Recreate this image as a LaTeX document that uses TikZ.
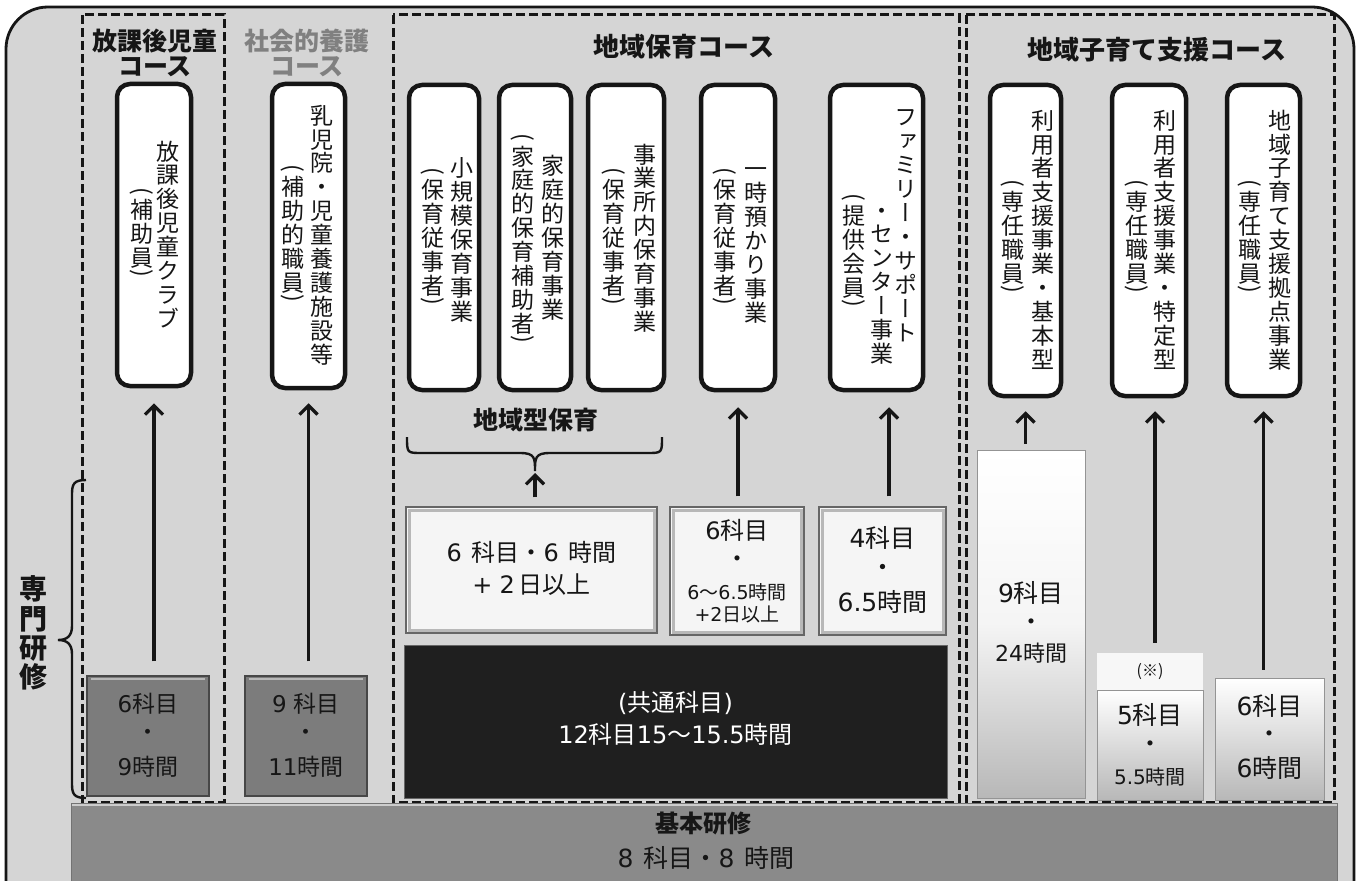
\documentclass[tikz,border=0pt]{standalone}
\usepackage{fontspec}
\usepackage{graphicx}
\setmainfont{Noto Sans CJK JP}
\newfontfamily\jpv[RawFeature=+vert]{Noto Sans CJK JP}
\newfontfamily\dv{DejaVu Sans}
\newcommand\dg[1]{{\dv #1}}
\usetikzlibrary{arrows.meta,calc}
\definecolor{bgc}{HTML}{D5D5D5}
\definecolor{boxgray}{HTML}{7C7C7C}
\definecolor{basegray}{HTML}{8A8A8A}
\definecolor{inkc}{HTML}{161616}
\makeatletter
\def\vt@lp{（}\def\vt@rp{）}
\def\vt@paren#1{\vbox to .45em{\vss\hbox to 1em{\hss\rotatebox[origin=c]{-90}{#1}\hss}\vss}}
\newcommand\vtext[1]{\vbox{\offinterlineskip\jpv
  \@tfor\vt@c:=#1\do{%
    \ifx\vt@c\vt@lp\vt@paren{(}%
    \else\ifx\vt@c\vt@rp\vt@paren{)}%
    \else\hbox to 1em{\vrule height .9em depth .14em width 0pt\hss\vt@c\hss}%
    \fi\fi}}}
\makeatother
\tikzset{
  fs/.style={font=\fontsize{#1}{#1}\selectfont},
  lbl/.style={inner sep=0pt, text=inkc},
  vcol/.style={inner sep=0pt, text=inkc, font=\fontsize{23}{24}\selectfont},
  ttl/.style={inner sep=0pt, text=inkc, font=\fontsize{25}{27}\selectfont\bfseries},
  jobbox/.style={draw=inkc, line width=4.5pt, fill=white, rounded corners=13pt, inner sep=0pt},
  course/.style={draw=inkc, line width=3pt, dash pattern=on 9pt off 4pt},
  arr/.style={draw=inkc, line width=3.2pt, -{Straight Barb[length=9pt,width=18pt]}},
  brace/.style={draw=inkc, line width=2.4pt},
  graybox/.style={fill=boxgray, draw=black!72, line width=1.2pt, inner sep=0pt,
    path picture={\draw[white!72!black, line width=2pt]
      ($(path picture bounding box.north west)+(4,3)$) -- ($(path picture bounding box.north east)+(-4,3)$);}},
  lightbox/.style={fill=black!4, draw=black!60, line width=1.2pt, inner sep=0pt,
    path picture={\draw[black!28, line width=3pt]
      ($(path picture bounding box.north west)+(3,3)$) rectangle ($(path picture bounding box.south east)+(-3,-3)$);}},
  gradbox/.style={top color=white, bottom color=black!28, draw=black!42, line width=1pt, inner sep=0pt},
  blackbox/.style={fill=black!88, draw=black!60, line width=1pt, inner sep=0pt},
  basebar/.style={fill=basegray, draw=black!55, line width=1pt, inner sep=0pt,
    path picture={\draw[white!80!black, line width=2.5pt]
      ($(path picture bounding box.north west)+(0,2)$) -- ($(path picture bounding box.north east)+(0,2)$);}}
}
\begin{document}
\begin{tikzpicture}[x=1pt,y=-1pt]
\useasboundingbox (0,0) rectangle (1364,880);
\fill[white] (0,0) rectangle (1364,880);
\begin{scope}
\clip (0,0) rectangle (1364,880);
\draw[fill=bgc, draw=inkc, line width=2.8pt, rounded corners=42pt] (6,7) rectangle (1354,940);
\end{scope}

% course frames
\draw[course] (82,15) rectangle (224,802);
\draw[course] (393,15) rectangle (959,802);
\draw[course] (966,15) rectangle (1334,802);

% course titles
\node[ttl] (c1a) at (155,41) {放課後児童};
\node[ttl] (c1b) at (155,67) {コース};
\node[ttl, text=black!50] (c2a) at (307,41) {社会的養護};
\node[ttl, text=black!50] (c2b) at (307,67) {コース};
\node[ttl, font=\fontsize{26}{28}\selectfont\bfseries] (c3) at (684,47) {地域保育コース};
\node[ttl, font=\fontsize{26}{28}\selectfont\bfseries] (c4) at (1157,50) {地域子育て支援コース};

% job boxes
\node[jobbox, minimum width=74, minimum height=302] (j1) at (154,235) {};
\node[jobbox, minimum width=73, minimum height=304] (j2) at (308.5,236) {};
\node[jobbox, minimum width=70, minimum height=305] (j3) at (444,237.5) {};
\node[jobbox, minimum width=72, minimum height=305] (j4) at (535,237.5) {};
\node[jobbox, minimum width=76, minimum height=305] (j5) at (626,237.5) {};
\node[jobbox, minimum width=74, minimum height=305] (j6) at (738,237.5) {};
\node[jobbox, minimum width=93, minimum height=305] (j7) at (876.5,237.5) {};
\node[jobbox, minimum width=71, minimum height=311] (j8) at (1025.5,240.5) {};
\node[jobbox, minimum width=74, minimum height=311] (j9) at (1149,240.5) {};
\node[jobbox, minimum width=73, minimum height=311] (j10) at (1263.5,240.5) {};

% vertical texts
\node[vcol] (v1a) at (168,235) {\vtext{放課後児童クラブ}};
\node[vcol] (v1b) at (142,234) {\vtext{（補助員）}};
\node[vcol] (v2a) at (322,235) {\vtext{乳児院・児童養護施設等}};
\node[vcol] (v2b) at (293,235) {\vtext{（補助的職員）}};
\node[vcol] (v3a) at (462,240) {\vtext{小規模保育事業}};
\node[vcol] (v3b) at (433,238) {\vtext{（保育従事者）}};
\node[vcol] (v4a) at (553,238) {\vtext{家庭的保育事業}};
\node[vcol] (v4b) at (523,240) {\vtext{（家庭的保育補助者）}};
\node[vcol] (v5a) at (645,238) {\vtext{事業所内保育事業}};
\node[vcol] (v5b) at (614,238) {\vtext{（保育従事者）}};
\node[vcol] (v6a) at (756,241) {\vtext{一時預かり事業}};
\node[vcol] (v6b) at (725,238) {\vtext{（保育従事者）}};
\node[vcol, anchor=north] (v7a) at (906,105) {\vtext{ファミリー・サポート}};
\node[vcol, anchor=south] (v7b) at (882,366) {\vtext{・センター事業}};
\node[vcol] (v7c) at (854,252) {\vtext{（提供会員）}};
\node[vcol] (v8a) at (1043,240) {\vtext{利用者支援事業・基本型}};
\node[vcol] (v8b) at (1013,238) {\vtext{（専任職員）}};
\node[vcol] (v9a) at (1165,240) {\vtext{利用者支援事業・特定型}};
\node[vcol] (v9b) at (1137,238) {\vtext{（専任職員）}};
\node[vcol] (v10a) at (1280,240) {\vtext{地域子育て支援拠点事業}};
\node[vcol] (v10b) at (1250,238) {\vtext{（専任職員）}};

% 地域型保育 brace
\node[ttl] (lz) at (536,420) {地域型保育};
\coordinate (brtip) at (535,471);
\draw[brace] (407,437) .. controls (407,453) and (407,453) .. (422,453) -- (520,453)
  .. controls (535,453) and (535,458) .. (brtip)
  .. controls (535,458) and (535,453) .. (550,453) -- (647,453)
  .. controls (662,453) and (662,453) .. (662,437);

% 専門研修 brace
\draw[brace] (86,480) .. controls (74,480) and (72,484) .. (72,494) -- (72,626)
  .. controls (72,636) and (67,640) .. (58,640)
  .. controls (67,640) and (72,644) .. (72,654) -- (72,784)
  .. controls (72,794) and (74,798) .. (86,798);
\node[inner sep=0pt, text=inkc, font=\fontsize{28}{28}\selectfont\bfseries] (sk) at (33,633) {\vtext{専門研修}};

% lower boxes
\node[graybox, minimum width=122, minimum height=120] (s1) at (148,736) {};
\node[graybox, minimum width=122, minimum height=120] (s2) at (306,736) {};
\node[lightbox, minimum width=251, minimum height=126] (b1) at (531.5,570) {};
\node[lightbox, minimum width=134, minimum height=128] (b2) at (737,571) {};
\node[lightbox, minimum width=127, minimum height=128] (b3) at (882.5,571) {};
\node[blackbox, minimum width=543, minimum height=153] (k) at (675.5,721.5) {};
\node[gradbox, middle color=white!96!black, minimum width=108, minimum height=348] (r1) at (1031,624) {};
\node[fill=white!97!black, inner sep=0pt, minimum width=106, minimum height=37] (rn) at (1150,671.5) {};
\node[gradbox, minimum width=106, minimum height=110] (r2) at (1150,745) {};
\node[gradbox, minimum width=109, minimum height=122] (r3) at (1269.5,739) {};
\node[basebar, minimum width=1266, minimum height=100] (base) at (704,853) {};

% texts in lower boxes
\node[lbl, fs=23] (s1a) at (148,704) {\dg{6}科目};
\node[lbl, fs=23] (s1b) at (148,735) {・};
\node[lbl, fs=23] (s1c) at (148,767) {\dg{9}時間};
\node[lbl, fs=23] (s2a) at (306,704) {\dg{9}\hspace{.3em}科目};
\node[lbl, fs=23] (s2b) at (306,735) {・};
\node[lbl, fs=23] (s2c) at (306,767) {\dg{11}時間};

\node[lbl, fs=24] (b1a) at (531.5,552) {\dg{6}\hspace{.4em}科目・\dg{6}\hspace{.4em}時間};
\node[lbl, fs=24] (b1b) at (531.5,585) {\dg{+}\hspace{.3em}\dg{2}\hspace{.15em}日以上};
\node[lbl, fs=24] (b2a) at (737,530) {\dg{6}科目};
\node[lbl, fs=24] (b2b) at (737,562) {・};
\node[lbl, fs=19] (b2c) at (737,592) {\dg{6}～\dg{6.5}時間};
\node[lbl, fs=19] (b2d) at (737,614) {\dg{+2}日以上};
\node[lbl, fs=25] (b3a) at (882.5,538) {\dg{4}科目};
\node[lbl, fs=25] (b3b) at (882.5,570) {・};
\node[lbl, fs=25] (b3c) at (882.5,602) {\dg{6.5}時間};

\node[lbl, fs=24, text=white] (ka) at (675.5,703) {\dg{(}共通科目\dg{)}};
\node[lbl, fs=24, text=white] (kb) at (675.5,734) {\dg{12}科目\dg{15}～\dg{15.5}時間};

\node[lbl, fs=25] (r1a) at (1031,593) {\dg{9}科目};
\node[lbl, fs=24] (r1b) at (1031,625) {・};
\node[lbl, fs=22] (r1c) at (1031,653) {\dg{24}時間};
\node[lbl, fs=16] (rnt) at (1150,672) {(※)};
\node[lbl, fs=25] (r2a) at (1150,715) {\dg{5}科目};
\node[lbl, fs=24] (r2b) at (1150,747) {・};
\node[lbl, fs=20] (r2c) at (1150,777) {\dg{5.5}時間};
\node[lbl, fs=25] (r3a) at (1269.5,706) {\dg{6}科目};
\node[lbl, fs=24] (r3b) at (1269.5,737) {・};
\node[lbl, fs=25] (r3c) at (1269.5,768) {\dg{6}時間};

\node[lbl, font=\fontsize{24}{24}\selectfont\bfseries] (bt1) at (703,823) {基本研修};
\node[lbl, fs=25] (bt2) at (706,858) {\dg{8}\hspace{.4em}科目・\dg{8}\hspace{.4em}時間};

% arrows
\coordinate (ax5) at (889,0);
\coordinate (ax7) at (1155,0);
\draw[arr] ($(s1.north -| j1.south)+(0,-14)$) -- ($(j1.south)+(0,15)$);
\draw[arr] ($(s2.north -| j2.south)+(0,-14)$) -- ($(j2.south)+(0,13)$);
\draw[arr] ($(b1.north -| brtip)+(0,-9)$) -- ($(brtip)+(0,2)$);
\draw[arr] ($(b2.north -| j6.south)+(0,-10)$) -- ($(j6.south)+(0,15)$);
\draw[arr] ($(b3.north -| ax5)+(0,-10)$) -- ($(j7.south -| ax5)+(0,15)$);
\draw[arr] ($(r1.north -| j8.south)+(0,-6)$) -- ($(j8.south)+(0,13)$);
\draw[arr] ($(rn.north -| ax7)+(0,-10)$) -- ($(j9.south -| ax7)+(0,13)$);
\draw[arr] ($(r3.north -| j10.south)+(0,-8)$) -- ($(j10.south)+(0,13)$);
\end{tikzpicture}
\end{document}
